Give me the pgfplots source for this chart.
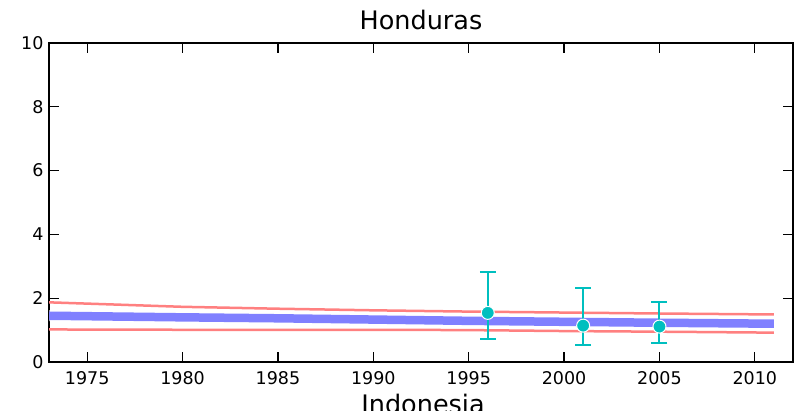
\documentclass[border=0pt]{standalone}
\usepackage{pgfplots}
\pgfplotsset{compat=1.18}
\usepackage{fontspec}
\setmainfont{DejaVu Sans}
\definecolor{bl}{HTML}{8080FF}
\definecolor{rd}{HTML}{FF8080}
\definecolor{cy}{HTML}{00BFBF}
\begin{document}
\begin{tikzpicture}[x=1pt,y=1pt]
\path[use as bounding box] (0,0) rectangle (803,411);
\begin{axis}[
  at={(49pt,49pt)}, anchor=south west,
  width=744pt, height=319pt, scale only axis,
  xmin=1973, xmax=2012, ymin=0, ymax=10,
  xtick={1975,1980,...,2010}, ytick={0,2,4,6,8,10},
  /pgf/number format/assume math mode=true,
  /pgf/number format/1000 sep={},
  tick align=inside, major tick length=10pt,
  tick style={black, line width=1.2pt},
  axis line style={line width=2pt},
  ticklabel style={font=\fontsize{17.5}{20}\selectfont},
  xticklabel style={yshift=-6pt},
  yticklabel style={xshift=-2pt},
  clip=true,
]
\addplot[white, line width=11pt, opacity=0.6] coordinates {(1973,1.45) (1980,1.40) (1985,1.37) (1990,1.33) (1995,1.29) (2000,1.26) (2005,1.23) (2011,1.20)};
\addplot[bl, line width=8.5pt] coordinates {(1973,1.45) (1980,1.40) (1985,1.37) (1990,1.33) (1995,1.29) (2000,1.26) (2005,1.23) (2011,1.20)};
\addplot[rd, line width=2.5pt] coordinates {(1973,1.87) (1975,1.83) (1980,1.73) (1985,1.67) (1990,1.62) (1995,1.58) (2000,1.55) (2005,1.52) (2011,1.49)};
\addplot[rd, line width=2.5pt] coordinates {(1973,1.02) (1980,1.01) (1985,1.01) (1990,1.01) (1995,1.00) (2000,0.97) (2005,0.95) (2011,0.92)};
\addplot[cy, only marks, mark=*, mark size=6.5pt, mark options={fill=cy, draw=white, line width=1pt},
  error bars/.cd, y dir=both, y explicit,
  error bar style={cy, line width=2pt},
  error mark options={cy, rotate=90, mark size=8pt, line width=2pt}]
  coordinates {
  (1996,1.54) += (0,1.29) -= (0,0.81)
  (2001,1.14) += (0,1.19) -= (0,0.62)
  (2005,1.11) += (0,0.78) -= (0,0.51)
  };
\end{axis}
\node[anchor=base, font=\fontsize{25.5}{30}\selectfont] at (421,381.5) {Honduras};
\node[anchor=base, font=\fontsize{25.5}{30}\selectfont] at (423,-3) {Indonesia};
\end{tikzpicture}
\end{document}
